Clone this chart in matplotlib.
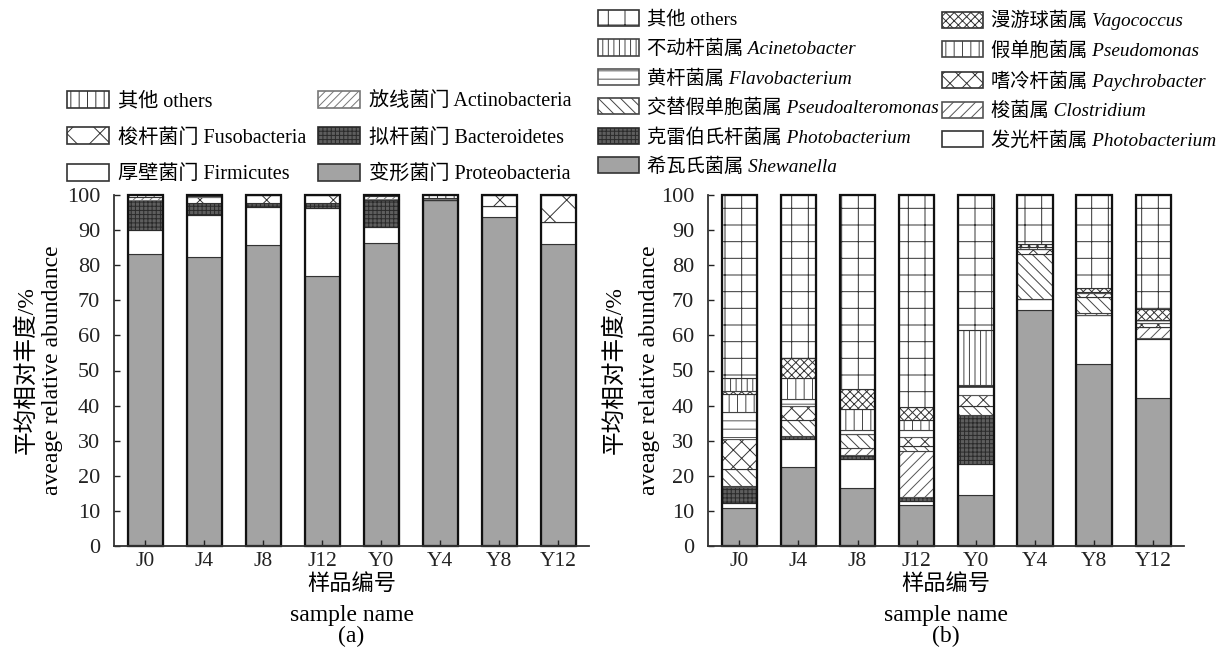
import matplotlib
matplotlib.use('Agg')
import matplotlib.pyplot as plt
import matplotlib.transforms as mtransforms
import numpy as np

plt.rcParams['font.family'] = ['Liberation Serif', 'Noto Sans CJK SC']
plt.rcParams['hatch.linewidth'] = 0.7

W, H = 1221, 650

samples = ['J0', 'J4', 'J8', 'J12', 'Y0', 'Y4', 'Y8', 'Y12']

# (a) phylum level, bottom -> top
proteobacteria = [83.1, 82.2, 85.8, 77.0, 86.2, 98.5, 93.7, 86.0]
firmicutes     = [6.9, 12.1, 10.7, 19.2, 4.8, 0.0, 3.1, 6.3]
bacteroidetes  = [8.5, 3.4, 1.2, 1.5, 7.5, 0.2, 0.0, 0.0]
fusobacteria   = [0.0, 1.8, 2.3, 2.3, 0.3, 0.2, 3.2, 7.7]
actinobacteria = [1.0, 0.3, 0.0, 0.0, 1.0, 0.3, 0.0, 0.0]
others_a       = [0.5, 0.2, 0.0, 0.0, 0.2, 0.8, 0.0, 0.0]

# (b) genus level, bottom -> top
shewanella        = [10.8, 22.5, 16.4, 11.6, 14.5, 67.2, 51.8, 42.2]
photobacterium    = [1.4, 8.0, 8.4, 1.2, 9.0, 3.3, 14.0, 16.8]
klebsiella        = [4.5, 0.9, 1.0, 1.2, 13.9, 0.0, 0.0, 0.3]
clostridium       = [0.4, 0.0, 2.0, 13.0, 0.0, 0.0, 0.5, 3.2]
pseudoalteromonas = [4.8, 4.6, 4.2, 1.5, 2.6, 12.8, 4.7, 0.0]
paychrobacter     = [8.6, 4.0, 0.0, 2.5, 3.0, 1.3, 1.0, 1.0]
flavobacterium    = [7.6, 2.0, 1.0, 2.0, 2.5, 0.0, 0.5, 1.0]
pseudomonas       = [5.2, 6.0, 6.0, 3.0, 0.0, 0.6, 0.0, 0.0]
vagococcus        = [1.0, 5.5, 5.8, 3.5, 0.5, 0.8, 1.0, 3.0]
acinetobacter     = [3.7, 0.0, 0.0, 0.0, 15.5, 0.0, 0.0, 0.0]
others_b          = [52.0, 46.5, 55.2, 60.5, 38.5, 14.0, 26.5, 32.5]

labels_a = ['变形菌门 Proteobacteria', '厚壁菌门 Firmicutes', '拟杆菌门 Bacteroidetes',
            '梭杆菌门 Fusobacteria', '放线菌门 Actinobacteria', '其他 others']
labels_b = ['希瓦氏菌属 Shewanella', '发光杆菌属 Photobacterium', '克雷伯氏杆菌属 Photobacterium',
            '梭菌属 Clostridium', '交替假单胞菌属 Pseudoalteromonas', '嗜冷杆菌属 Paychrobacter',
            '黄杆菌属 Flavobacterium', '假单胞菌属 Pseudomonas', '漫游球菌属 Vagococcus',
            '不动杆菌属 Acinetobacter', '其他 others']

GRAY = dict(facecolor='#a3a3a3', hatch='', edgecolor='#333333')
DARK = dict(facecolor='#5e5e5e', hatch='++++', edgecolor='#2a2a2a')
WHITE = dict(facecolor='white', hatch='', edgecolor='#333333')

styles_a = [GRAY, WHITE, DARK,
            dict(facecolor='white', hatch='x', edgecolor='#333333'),
            dict(facecolor='white', hatch='////', edgecolor='#777777'),
            dict(facecolor='white', hatch='||', edgecolor='#333333')]
styles_b = [GRAY, WHITE, DARK,
            dict(facecolor='white', hatch='///', edgecolor='#555555'),
            dict(facecolor='white', hatch='\\\\\\', edgecolor='#444444'),
            dict(facecolor='white', hatch='xx', edgecolor='#333333'),
            dict(facecolor='white', hatch='--', edgecolor='#555555'),
            dict(facecolor='white', hatch='||', edgecolor='#444444'),
            dict(facecolor='white', hatch='xxxx', edgecolor='#333333'),
            dict(facecolor='white', hatch='|||', edgecolor='#444444'),
            dict(facecolor='white', hatch='+', edgecolor='#333333')]


def px_axes(fig, left, right, bottom, top):
    return fig.add_axes([left / W, 1 - bottom / H, (right - left) / W, (bottom - top) / H])


def stacked(ax, series, styles):
    x = np.arange(len(samples))
    bottom = np.zeros(len(samples))
    conts = []
    for vals, st in zip(series, styles):
        vals = np.array(vals)
        c = ax.bar(x, vals, 0.6, bottom=bottom, linewidth=0.8, clip_on=False, **st)
        conts.append(c)
        bottom += vals
    ax.bar(x, bottom, 0.6, fill=False, edgecolor='#111111', linewidth=1.6, clip_on=False)
    ax.set_xlim(-0.53, 7.52)
    ax.set_ylim(0, 100)
    ax.set_xticks(x)
    ax.set_xticklabels(samples)
    ax.set_yticks(np.arange(0, 101, 10))
    ax.tick_params(direction='in', length=4, width=1, colors='#222222')
    ax.tick_params(axis='y', pad=10, labelsize=16)
    ax.tick_params(axis='x', pad=4, labelsize=15.5)
    for s in ['top', 'right']:
        ax.spines[s].set_visible(False)
    for s in ['left', 'bottom']:
        ax.spines[s].set_linewidth(1.3)
        ax.spines[s].set_color('#333333')
    return conts


def axis_texts(fig, ax, tag, ylx):
    tr = mtransforms.blended_transform_factory(ax.transAxes, fig.transFigure)
    ax.text(0.5, 1 - 585 / H, '样品编号', transform=tr, ha='center', va='center', fontsize=16)
    ax.text(0.5, 1 - 615 / H, 'sample name', transform=tr, ha='center', va='center', fontsize=17)
    ax.text(0.5, 1 - 636 / H, tag, transform=tr, ha='center', va='center', fontsize=17)
    tr2 = mtransforms.blended_transform_factory(fig.transFigure, ax.transAxes)
    ax.text(ylx[0] / W, 0.5, '平均相对丰度/%', transform=tr2, rotation=90,
            ha='center', va='center', fontsize=17)
    ax.text(ylx[1] / W, 0.5, 'aveage relative abundance', transform=tr2, rotation=90,
            ha='center', va='center', fontsize=17)


def column_legend(fig, conts, labels, x, y, size, spacing, italic):
    leg = fig.legend(conts, labels, loc='upper left', bbox_to_anchor=(x / W, 1 - y / H),
                     frameon=False, borderpad=0, borderaxespad=0, fontsize=size,
                     handlelength=2.1, handleheight=0.9, handletextpad=0.45,
                     labelspacing=spacing)
    for t, lab in zip(leg.get_texts(), labels):
        if italic and 'others' not in lab:
            t.set_fontstyle('italic')
    for p in leg.get_patches():
        p.set_linewidth(1.2)
    return leg


fig = plt.figure(figsize=(W / 100, H / 100), dpi=100)

ax1 = px_axes(fig, 114, 589, 546, 195)
ca = stacked(ax1, [proteobacteria, firmicutes, bacteroidetes, fusobacteria,
                   actinobacteria, others_a], styles_a)
axis_texts(fig, ax1, '(a)', (26, 53))

ax2 = px_axes(fig, 708, 1184, 546, 195)
cb = stacked(ax2, [shewanella, photobacterium, klebsiella, clostridium, pseudoalteromonas,
                   paychrobacter, flavobacterium, pseudomonas, vagococcus,
                   acinetobacter, others_b], styles_b)
axis_texts(fig, ax2, '(b)', (614, 649))

# legends, one per column
column_legend(fig, [ca[5], ca[3], ca[1]], [labels_a[5], labels_a[3], labels_a[1]],
              67, 91, 14.5, 0.8, False)
column_legend(fig, [ca[4], ca[2], ca[0]], [labels_a[4], labels_a[2], labels_a[0]],
              318, 91, 14.5, 0.8, False)
column_legend(fig, [cb[10], cb[9], cb[6], cb[4], cb[2], cb[0]],
              [labels_b[10], labels_b[9], labels_b[6], labels_b[4], labels_b[2], labels_b[0]],
              598, 10, 13.9, 0.56, True)
column_legend(fig, [cb[8], cb[7], cb[5], cb[3], cb[1]],
              [labels_b[8], labels_b[7], labels_b[5], labels_b[3], labels_b[1]],
              942, 10, 13.9, 0.56, True)

fig.savefig('out.png', dpi=100)
